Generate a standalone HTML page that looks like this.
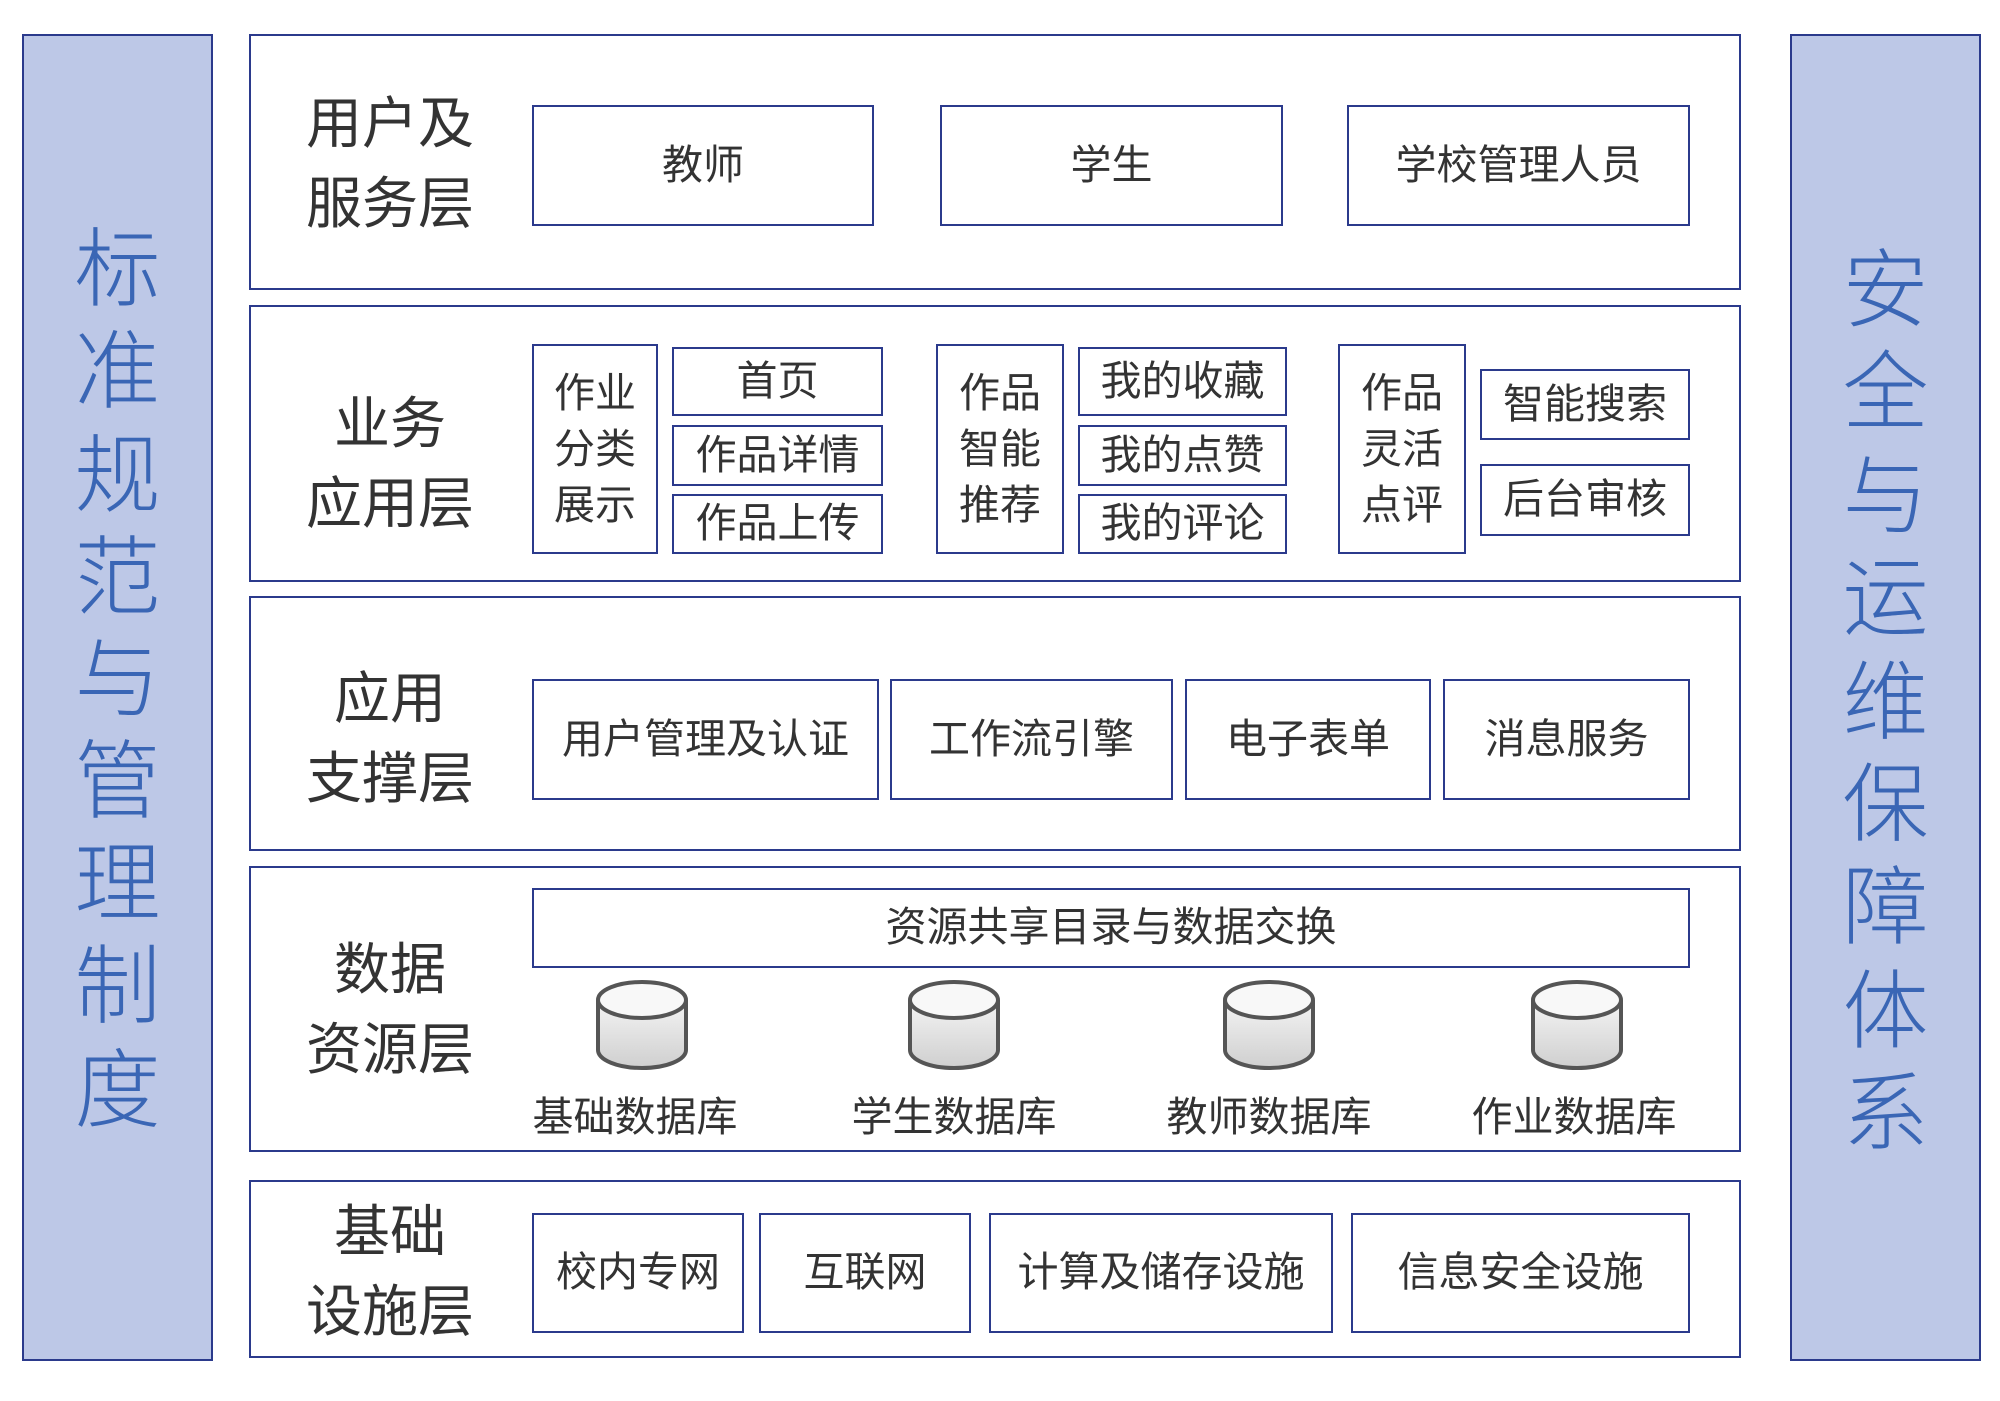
<!DOCTYPE html>
<html><head><meta charset="utf-8"><style>
*{margin:0;padding:0;box-sizing:border-box}
body{width:2000px;height:1401px;background:#fff;position:relative;overflow:hidden;font-family:"Liberation Sans","Noto Sans CJK SC",sans-serif;color:#333}
.side{position:absolute;background:#bdc8e7;border:2px solid #2b3a8c}
.sc{position:absolute;left:0;width:100%;text-align:center;font-size:86px;line-height:86px;color:#3a66b5;font-weight:300}
.layer{position:absolute;left:249px;width:1492px;border:2px solid #2b3a8c;background:#fff}
.b{position:absolute;border:2px solid #2b3a8c;background:#fff;display:flex;align-items:center;justify-content:center;text-align:center;font-size:41px;line-height:1.15}
.lbl{position:absolute;left:280px;width:220px;text-align:center;font-size:56px;line-height:80px;color:#333}
.cyl{position:absolute;width:96px;height:94px}
.dl{position:absolute;width:260px;text-align:center;font-size:41px}
</style></head><body>
<div class="side" style="left:22px;top:34px;width:191px;height:1327px">
<div class="sc" style="top:191px">标</div><div class="sc" style="top:293px">准</div><div class="sc" style="top:397px">规</div><div class="sc" style="top:499px">范</div><div class="sc" style="top:601px">与</div><div class="sc" style="top:703px">管</div><div class="sc" style="top:805px">理</div><div class="sc" style="top:908px">制</div><div class="sc" style="top:1012px">度</div>
</div>
<div class="side" style="left:1790px;top:34px;width:191px;height:1327px">
<div class="sc" style="top:212px">安</div><div class="sc" style="top:314px">全</div><div class="sc" style="top:418px">与</div><div class="sc" style="top:520px">运</div><div class="sc" style="top:624px">维</div><div class="sc" style="top:726px">保</div><div class="sc" style="top:829px">障</div><div class="sc" style="top:933px">体</div><div class="sc" style="top:1035px">系</div>
</div>

<div class="layer" style="top:34px;height:256px"></div>
<div class="lbl" style="top:84px">用户及<br>服务层</div>
<div class="b" style="left:532px;top:105px;width:342px;height:121px">教师</div>
<div class="b" style="left:940px;top:105px;width:343px;height:121px">学生</div>
<div class="b" style="left:1347px;top:105px;width:343px;height:121px">学校管理人员</div>

<div class="layer" style="top:305px;height:277px"></div>
<div class="lbl" style="top:384px">业务<br>应用层</div>
<div class="b" style="left:532px;top:344px;width:126px;height:210px;line-height:56px">作业<br>分类<br>展示</div>
<div class="b" style="left:672px;top:347px;width:211px;height:69px">首页</div>
<div class="b" style="left:672px;top:425px;width:211px;height:61px">作品详情</div>
<div class="b" style="left:672px;top:494px;width:211px;height:60px">作品上传</div>
<div class="b" style="left:936px;top:344px;width:128px;height:210px;line-height:56px">作品<br>智能<br>推荐</div>
<div class="b" style="left:1078px;top:347px;width:209px;height:69px">我的收藏</div>
<div class="b" style="left:1078px;top:425px;width:209px;height:61px">我的点赞</div>
<div class="b" style="left:1078px;top:494px;width:209px;height:60px">我的评论</div>
<div class="b" style="left:1338px;top:344px;width:128px;height:210px;line-height:56px">作品<br>灵活<br>点评</div>
<div class="b" style="left:1480px;top:369px;width:210px;height:71px">智能搜索</div>
<div class="b" style="left:1480px;top:464px;width:210px;height:72px">后台审核</div>

<div class="layer" style="top:596px;height:255px"></div>
<div class="lbl" style="top:659px">应用<br>支撑层</div>
<div class="b" style="left:532px;top:679px;width:347px;height:121px">用户管理及认证</div>
<div class="b" style="left:890px;top:679px;width:283px;height:121px">工作流引擎</div>
<div class="b" style="left:1185px;top:679px;width:246px;height:121px">电子表单</div>
<div class="b" style="left:1443px;top:679px;width:247px;height:121px">消息服务</div>

<div class="layer" style="top:866px;height:286px"></div>
<div class="lbl" style="top:930px">数据<br>资源层</div>
<div class="b" style="left:532px;top:888px;width:1158px;height:80px">资源共享目录与数据交换</div>
<svg width="0" height="0" style="position:absolute"><defs><linearGradient id="g" x1="0" x2="0" y1="0" y2="1"><stop offset="0" stop-color="#f4f4f4"/><stop offset="1" stop-color="#cfcfcf"/></linearGradient></defs></svg>
<svg class="cyl" style="left:594px;top:978px" viewBox="0 0 96 94"><path d="M4 22 V72 A44 18 0 0 0 92 72 V22" fill="url(#g)" stroke="#555" stroke-width="4"/><ellipse cx="48" cy="22" rx="44" ry="18" fill="#f8f8f8" stroke="#555" stroke-width="4"/></svg>
<svg class="cyl" style="left:906px;top:978px" viewBox="0 0 96 94"><path d="M4 22 V72 A44 18 0 0 0 92 72 V22" fill="url(#g)" stroke="#555" stroke-width="4"/><ellipse cx="48" cy="22" rx="44" ry="18" fill="#f8f8f8" stroke="#555" stroke-width="4"/></svg>
<svg class="cyl" style="left:1221px;top:978px" viewBox="0 0 96 94"><path d="M4 22 V72 A44 18 0 0 0 92 72 V22" fill="url(#g)" stroke="#555" stroke-width="4"/><ellipse cx="48" cy="22" rx="44" ry="18" fill="#f8f8f8" stroke="#555" stroke-width="4"/></svg>
<svg class="cyl" style="left:1529px;top:978px" viewBox="0 0 96 94"><path d="M4 22 V72 A44 18 0 0 0 92 72 V22" fill="url(#g)" stroke="#555" stroke-width="4"/><ellipse cx="48" cy="22" rx="44" ry="18" fill="#f8f8f8" stroke="#555" stroke-width="4"/></svg>
<div class="dl" style="left:505px;top:1083px">基础数据库</div>
<div class="dl" style="left:824px;top:1083px">学生数据库</div>
<div class="dl" style="left:1139px;top:1083px">教师数据库</div>
<div class="dl" style="left:1444px;top:1083px">作业数据库</div>

<div class="layer" style="top:1180px;height:178px"></div>
<div class="lbl" style="top:1192px">基础<br>设施层</div>
<div class="b" style="left:532px;top:1213px;width:212px;height:120px">校内专网</div>
<div class="b" style="left:759px;top:1213px;width:212px;height:120px">互联网</div>
<div class="b" style="left:989px;top:1213px;width:344px;height:120px">计算及储存设施</div>
<div class="b" style="left:1351px;top:1213px;width:339px;height:120px">信息安全设施</div>
</body></html>
